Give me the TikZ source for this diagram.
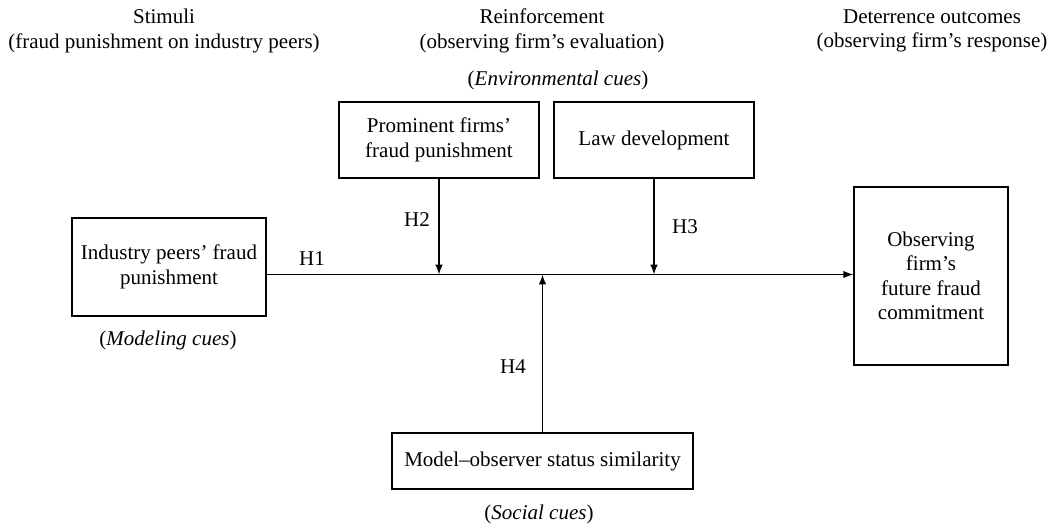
\documentclass[tikz,border=0pt]{standalone}
\usepackage{fontspec}
\setmainfont{Liberation Serif}
\usetikzlibrary{arrows, calc}

\begin{document}
\begin{tikzpicture}[x=0.5pt, y=-0.5pt, font=\fontsize{10.5}{12.2}\selectfont,
    box/.style={draw, line width=0.8pt, align=center, inner sep=0pt},
    link/.style={-latex, line width=0.7pt}]
            \useasboundingbox (0,0) rectangle (1051,525);

            % column headings
            \node[align=center] (stim) at (164,31) {Stimuli\\(fraud punishment on industry peers)};
            \node[align=center] (reinf) at (542,31) {Reinforcement\\(observing firm's evaluation)};
            \node[align=center] (deter) at (932,31) {Deterrence outcomes\\(observing firm's response)};

            \node (envcue) at (558,80) {(\textit{Environmental cues})};
            \node (modcue) at (168,340) {(\textit{Modeling cues})};
            \node (soccue) at (539,514) {(\textit{Social cues})};

            \node[box, minimum width=97pt, minimum height=49pt] (peers) at (169,267) {Industry peers' fraud\\punishment};
            \node[box, minimum width=100pt, minimum height=38pt] (prom) at (439,140) {Prominent firms'\\fraud punishment};
            \node[box, minimum width=100pt, minimum height=38pt] (law) at (654,140) {Law development};
            \node[box, minimum width=77pt, minimum height=89pt] (obs) at (931,276) {Observing\\firm's\\future fraud\\commitment};
            \node[box, minimum width=150.5pt, minimum height=28pt] (status) at (542.5,461) {Model--observer status similarity};

            \coordinate (mid) at (0,274.5);
            \draw[link] (peers.east |- mid) -- (obs.west |- mid);
            \draw[link] (prom.south) -- (prom.south |- mid);
            \draw[link] (law.south) -- (law.south |- mid);
            \draw[link] (status.north) -- (status.north |- mid);

            \foreach \x/\y/\n in {312/259/H1, 417/220/H2, 685/227/H3, 513/367/H4} {
                \node (\n) at (\x,\y) {\n};
            }

        \end{tikzpicture}
\end{document}
